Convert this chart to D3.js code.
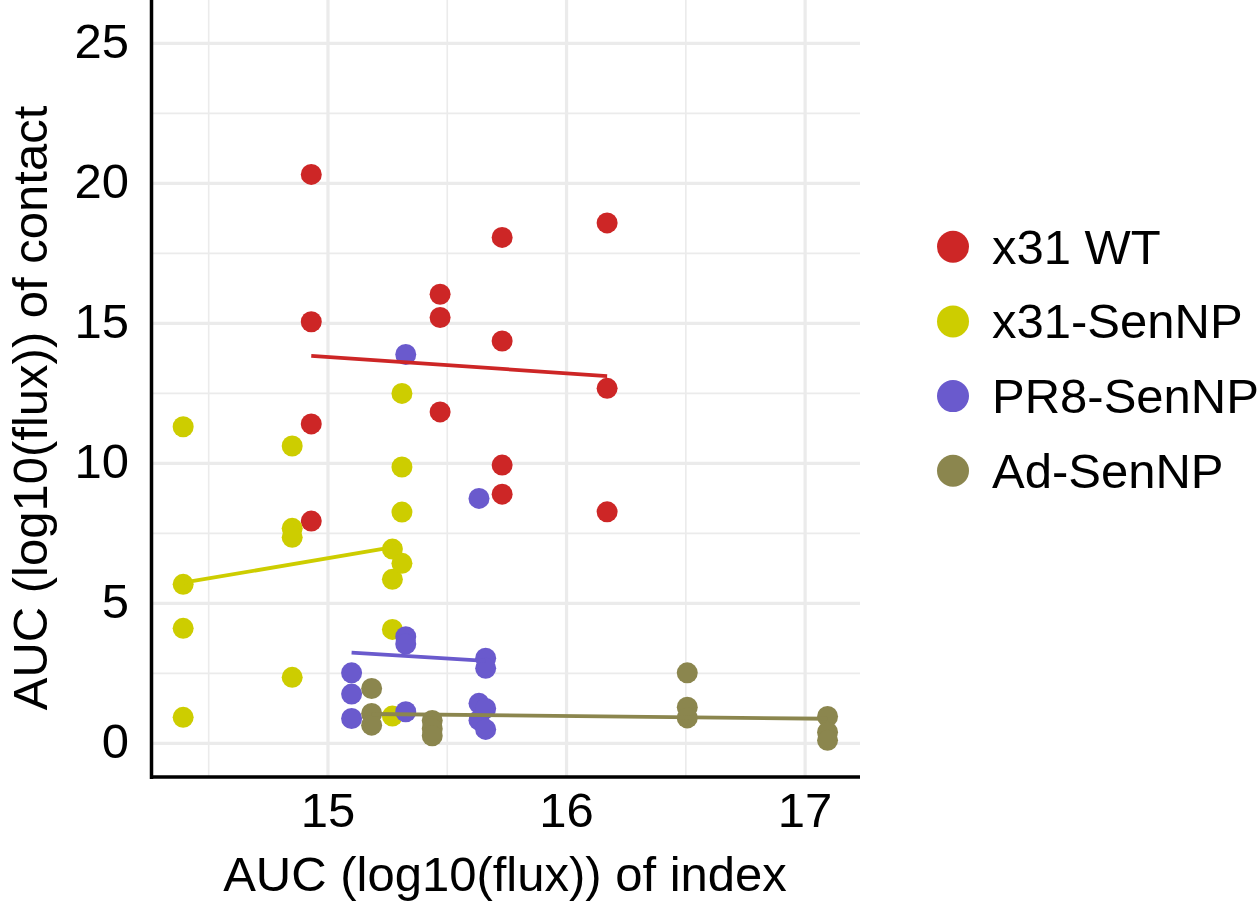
<!DOCTYPE html>
<html><head><meta charset="utf-8">
<script src="https://cdn.jsdelivr.net/npm/d3@7"></script>
<style>html,body{margin:0;padding:0;background:#fff;}svg{display:block;}</style>
</head><body>
<svg id="chart" width="1258" height="904"></svg>
<script>
// ---- data ----
const groups = ["x31 WT", "x31-SenNP", "PR8-SenNP", "Ad-SenNP"];
const colors = ["#CD2626", "#CDCD00", "#6A5ACD", "#8B864E"];

const x31WT_x = [14.93,14.93,14.93,14.93, 15.47,15.47,15.47, 15.73,15.73,15.73,15.73, 16.17,16.17,16.17];
const x31WT_y = [20.32,15.06,11.41,7.94, 16.04,15.21,11.84, 18.07,14.37,9.94,8.90, 18.59,12.68,8.27];

const x31Sen_x = [14.393,14.393,14.393,14.393, 14.85,14.85,14.85,14.85, 15.27,15.27,15.27,15.27, 15.31,15.31,15.31,15.31];
const x31Sen_y = [11.31,5.68,4.11,0.93, 10.62,7.68,7.36,2.36, 6.94,5.86,4.07,0.975, 12.5,9.87,8.26,6.43];

const pr8Sen_x = [15.099,15.099,15.099, 15.326,15.326,15.326,15.326, 15.633,15.633,15.633, 15.661,15.661,15.661,15.661];
const pr8Sen_y = [2.52,1.76,0.89, 13.89,3.81,3.55,1.13, 8.75,1.43,0.83, 3.04,2.68,1.25,0.50];

const adSen_x = [15.183,15.183,15.183, 15.437,15.437,15.437, 16.506,16.506,16.506, 17.094,17.094,17.094];
const adSen_y = [1.96,1.07,0.65, 0.82,0.52,0.27, 2.52,1.29,0.91, 0.96,0.40,0.11];

// fitted trend lines: [x start, y start, x end, y end]
const fitX31WT  = [14.93, 13.84, 16.17, 13.12];
const fitX31Sen = [14.393, 5.74, 15.31, 7.06];
const fitPR8Sen = [15.099, 3.24, 15.661, 2.95];
const fitAdSen  = [15.183, 1.05, 17.094, 0.88];

const xTicks = [15, 16, 17];
const xMinor = [14.5, 15.5, 16.5];
const yTicks = [0, 5, 10, 15, 20, 25];
const yMinor = [2.5, 7.5, 12.5, 17.5, 22.5];
const xTitle = "AUC (log10(flux)) of index";
const yTitle = "AUC (log10(flux)) of contact";

// ---- build ----
const seriesX = [x31WT_x, x31Sen_x, pr8Sen_x, adSen_x];
const seriesY = [x31WT_y, x31Sen_y, pr8Sen_y, adSen_y];
const fits = [fitX31WT, fitX31Sen, fitPR8Sen, fitAdSen];

const svg = d3.select("#chart");
const FONT = "Helvetica, Arial, 'Liberation Sans', sans-serif";
const L = 150, R = 860, T = 0, B = 777;
const x = d3.scaleLinear().domain([14.254, 17.23]).range([L, R]);
const y = d3.scaleLinear().domain([-1.2, 26.55]).range([B, T]);
const grid = "#EBEBEB";

const g = svg.append("g");
// minor grid
g.selectAll(".ymin").data(yMinor).join("line")
  .attr("x1", L).attr("x2", R).attr("y1", d => y(d)).attr("y2", d => y(d))
  .attr("stroke", grid).attr("stroke-width", 1.6);
g.selectAll(".xmin").data(xMinor).join("line")
  .attr("y1", T).attr("y2", B).attr("x1", d => x(d)).attr("x2", d => x(d))
  .attr("stroke", grid).attr("stroke-width", 1.6);
// major grid
g.selectAll(".ymaj").data(yTicks).join("line")
  .attr("x1", L).attr("x2", R).attr("y1", d => y(d)).attr("y2", d => y(d))
  .attr("stroke", grid).attr("stroke-width", 3.2);
g.selectAll(".xmaj").data(xTicks).join("line")
  .attr("y1", T).attr("y2", B).attr("x1", d => x(d)).attr("x2", d => x(d))
  .attr("stroke", grid).attr("stroke-width", 3.2);

// points
seriesX.forEach((xs, i) => {
  const pts = xs.map((v, j) => ({x: v, y: seriesY[i][j]}));
  g.append("g").selectAll("circle").data(pts).join("circle")
    .attr("cx", d => x(d.x)).attr("cy", d => y(d.y)).attr("r", 10.5)
    .attr("fill", colors[i]);
});
// fit lines
fits.forEach((f, i) => {
  g.append("line")
    .attr("x1", x(f[0])).attr("y1", y(f[1])).attr("x2", x(f[2])).attr("y2", y(f[3]))
    .attr("stroke", colors[i]).attr("stroke-width", 3.8);
});

// axes lines
svg.append("line").attr("x1", L + 1.5).attr("x2", L + 1.5).attr("y1", 0).attr("y2", B + 2)
  .attr("stroke", "#000").attr("stroke-width", 3.5);
svg.append("line").attr("x1", L).attr("x2", R).attr("y1", B).attr("y2", B)
  .attr("stroke", "#000").attr("stroke-width", 3.5);

// tick labels
svg.selectAll(".xt").data(xTicks).join("text")
  .attr("x", d => x(d)).attr("y", 827).attr("text-anchor", "middle")
  .attr("font-family", FONT).attr("font-size", 49).attr("fill", "#000").text(d => d);
svg.selectAll(".yt").data(yTicks).join("text")
  .attr("x", 129).attr("y", d => y(d) + 15).attr("text-anchor", "end")
  .attr("font-family", FONT).attr("font-size", 49).attr("fill", "#000").text(d => d);

// axis titles
svg.append("text").attr("x", (L + R) / 2).attr("y", 891).attr("text-anchor", "middle")
  .attr("font-family", FONT).attr("font-size", 49).attr("fill", "#000").text(xTitle);
svg.append("text").attr("transform", "translate(47,408) rotate(-90)").attr("text-anchor", "middle")
  .attr("font-family", FONT).attr("font-size", 49).attr("fill", "#000").text(yTitle);

// legend
const lg = svg.append("g");
groups.forEach((name, i) => {
  const cy = 246.7 + i * 74.7;
  lg.append("circle").attr("cx", 953).attr("cy", cy).attr("r", 16).attr("fill", colors[i]);
  lg.append("text").attr("x", 992).attr("y", cy + 17).attr("font-family", FONT)
    .attr("font-size", 49).attr("fill", "#000").text(name);
});
</script>
</body></html>
